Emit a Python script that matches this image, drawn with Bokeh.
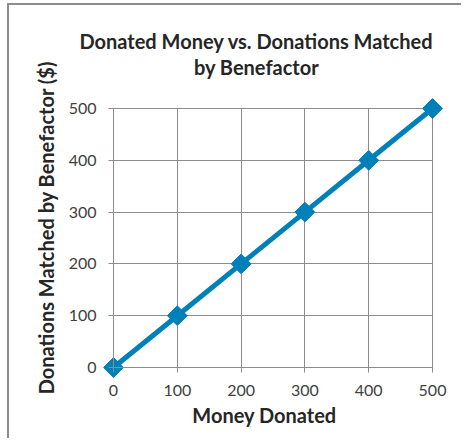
from bokeh.plotting import figure
from bokeh.models import Label, FixedTicker
from bokeh.embed import file_html
from bokeh.resources import INLINE
import math

money_donated = [0, 100, 200, 300, 400, 500]
matched = [0, 100, 200, 300, 400, 500]
ticks = [0, 100, 200, 300, 400, 500]
title_lines = ["Donated Money vs. Donations Matched", "by Benefactor"]
x_title = "Money Donated"
y_title = "Donations Matched by Benefactor ($)"

FONT = "Lato"
BLUE = "#0080B9"
GRID = "#8C8C8C"
TXT = "#404040"
DARK = "#262626"

# layout (page pixels) of the plotting area: data 0..500 maps to these
X0, X1 = 113, 432
Y0, Y1 = 367, 108
OX, OY = 9, 5            # content origin inside CSS margin + border
W, H = 452, 433
sx = 500 / (X1 - X0)
sy = 500 / (Y0 - Y1)
xr = ((OX - X0) * sx, (OX + W - X0) * sx)
yr = ((Y0 - (OY + H)) * sy, (Y0 - OY) * sy)


def dx(px):
    return (px - X0) * sx


def dy(py):
    return (Y0 - py) * sy


p = figure(output_backend="svg", toolbar_location=None,
           x_range=xr, y_range=yr, frame_width=W, frame_height=H,
           min_border_left=0, min_border_right=0, min_border_top=0, min_border_bottom=0)
p.title = None
p.styles = {"border-left": "2px solid #8C8C8C", "border-top": "2px solid #8C8C8C",
            "margin-left": "7px", "margin-top": "3px"}

for line_text, py in zip(title_lines, (40, 66)):
    p.add_layout(Label(x=dx(256), y=dy(py), text=line_text, text_align="center",
                       text_baseline="middle", text_font=FONT, text_font_size="20px",
                       text_font_style="bold", text_color=DARK))

p.add_layout(Label(x=dx(264), y=dy(414), text=x_title, text_align="center",
                   text_baseline="middle", text_font=FONT, text_font_size="20px",
                   text_font_style="bold", text_color=DARK))
p.add_layout(Label(x=dx(45.5), y=dy(227), text=y_title, angle=math.pi / 2,
                   text_align="center", text_baseline="middle", text_font=FONT,
                   text_font_size="20px", text_font_style="bold", text_color=DARK))

p.line(money_donated, matched, line_color=BLUE, line_width=5)
p.scatter(money_donated, matched, marker="square", angle=math.pi/4, size=14,
          fill_color=BLUE, line_color=BLUE)

for ax in (p.xaxis[0], p.yaxis[0]):
    ax.ticker = FixedTicker(ticks=ticks)
    ax.fixed_location = 0
    ax.bounds = (0, 500)
    ax.axis_line_color = GRID
    ax.major_tick_line_color = GRID
    ax.major_tick_out = 5
    ax.major_tick_in = 0
    ax.minor_tick_line_color = None
    ax.major_label_text_font = FONT
    ax.major_label_text_font_size = "16px"
    ax.major_label_text_color = TXT
    ax.major_label_standoff = 12

p.yaxis.major_label_orientation = "horizontal"

for g in (p.xgrid[0], p.ygrid[0]):
    g.ticker = FixedTicker(ticks=ticks)
    g.bounds = (0, 500)
    g.cross_bounds = (0, 500)
    g.grid_line_color = GRID
p.outline_line_color = None
p.background_fill_color = "white"
p.border_fill_color = "white"

open("out.html", "w").write(file_html(p, INLINE))
